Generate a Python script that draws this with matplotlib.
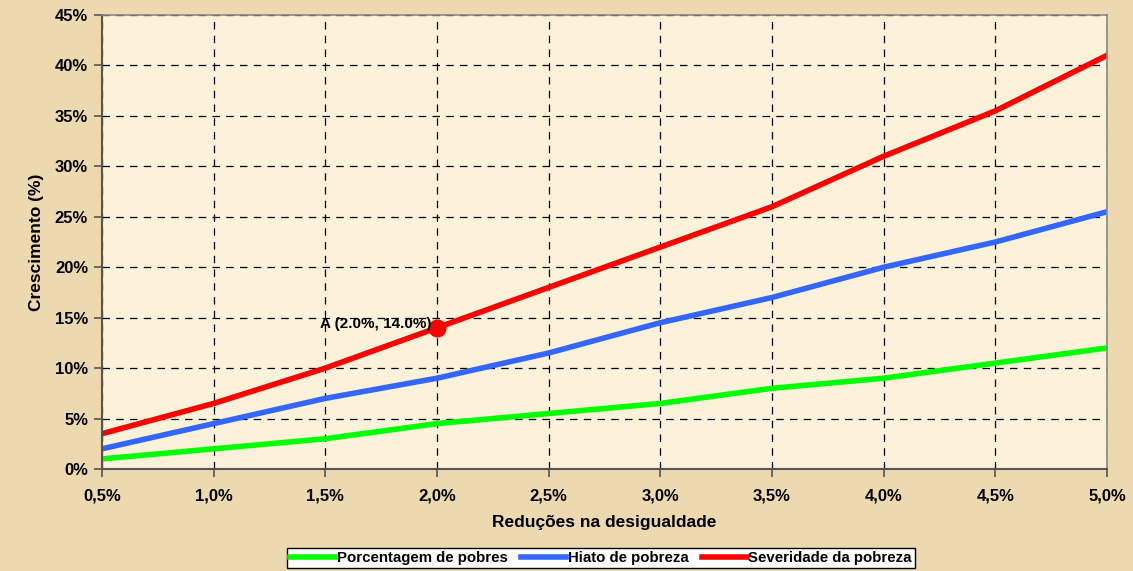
import matplotlib.pyplot as plt
from matplotlib.ticker import FuncFormatter

plt.rcParams['font.family'] = ['Liberation Sans', 'DejaVu Sans']
plt.rcParams['font.weight'] = 'bold'

reducoes = [0.5, 1.0, 1.5, 2.0, 2.5, 3.0, 3.5, 4.0, 4.5, 5.0]
porcentagem = [1.0, 2.0, 3.0, 4.5, 5.5, 6.5, 8.0, 9.0, 10.5, 12.0]
hiato = [2.0, 4.5, 7.0, 9.0, 11.5, 14.5, 17.0, 20.0, 22.5, 25.5]
severidade = [3.5, 6.5, 10.0, 14.0, 18.0, 22.0, 26.0, 31.0, 35.5, 41.0]
ponto_a = (2.0, 14.0)

fig = plt.figure(figsize=(11.33, 5.71), dpi=100)
fig.patch.set_facecolor("#ecd9b0")
ax = fig.add_axes([102 / 1133, 1 - 469 / 571, 1005 / 1133, 454 / 571])
ax.set_facecolor("#fcf2da")

ax.plot(reducoes, porcentagem, color="#00ff00", lw=4, label="Porcentagem de pobres")
ax.plot(reducoes, hiato, color="#3366ff", lw=4, label="Hiato de pobreza")
ax.plot(reducoes, severidade, color="#ff0000", lw=4, label="Severidade da pobreza")
ax.plot(*ponto_a, "o", color="#ff0000", ms=12)
ax.annotate("A (2.0%, 14.0%)", ponto_a, xytext=(-4, 3), textcoords="offset points",
            ha="right", va="center", fontsize=11, fontweight="bold")

ax.set_xlim(0.5, 5.0)
ax.set_ylim(0, 45)
ax.set_xticks(reducoes)
ax.set_yticks(range(0, 46, 5))
ax.xaxis.set_major_formatter(FuncFormatter(lambda v, p: f"{v:.1f}%".replace(".", ",")))
ax.yaxis.set_major_formatter(FuncFormatter(lambda v, p: f"{v:.0f}%"))
ax.tick_params(labelsize=12, length=6, width=1.2, color="#555555")
ax.tick_params(axis="x", pad=8)
ax.tick_params(axis="y", pad=4)
ax.grid(True, color="black", linestyle=(0, (6, 5)), linewidth=0.9)
for s in ["left", "bottom"]:
    ax.spines[s].set_color("#555555")
    ax.spines[s].set_linewidth(1.5)
for s in ["top", "right"]:
    ax.spines[s].set_color("#888888")
    ax.spines[s].set_linewidth(1.2)

ax.set_xlabel("Reduções na desigualdade", fontsize=12.5, fontweight="bold", labelpad=8)
ax.set_ylabel("Crescimento (%)", fontsize=12.5, fontweight="bold", labelpad=8)

leg = fig.legend(loc="center", bbox_to_anchor=(601 / 1133, 1 - 558 / 571), ncol=3,
                 frameon=True, fancybox=False, handlelength=3.0,
                 handletextpad=0.1, columnspacing=0.9, borderpad=0.2,
                 prop={"weight": "bold", "size": 10.8})
leg.get_frame().set_facecolor("white")
leg.get_frame().set_edgecolor("black")
leg.get_frame().set_alpha(1)

fig.savefig("out.png", dpi=100, facecolor=fig.get_facecolor())
